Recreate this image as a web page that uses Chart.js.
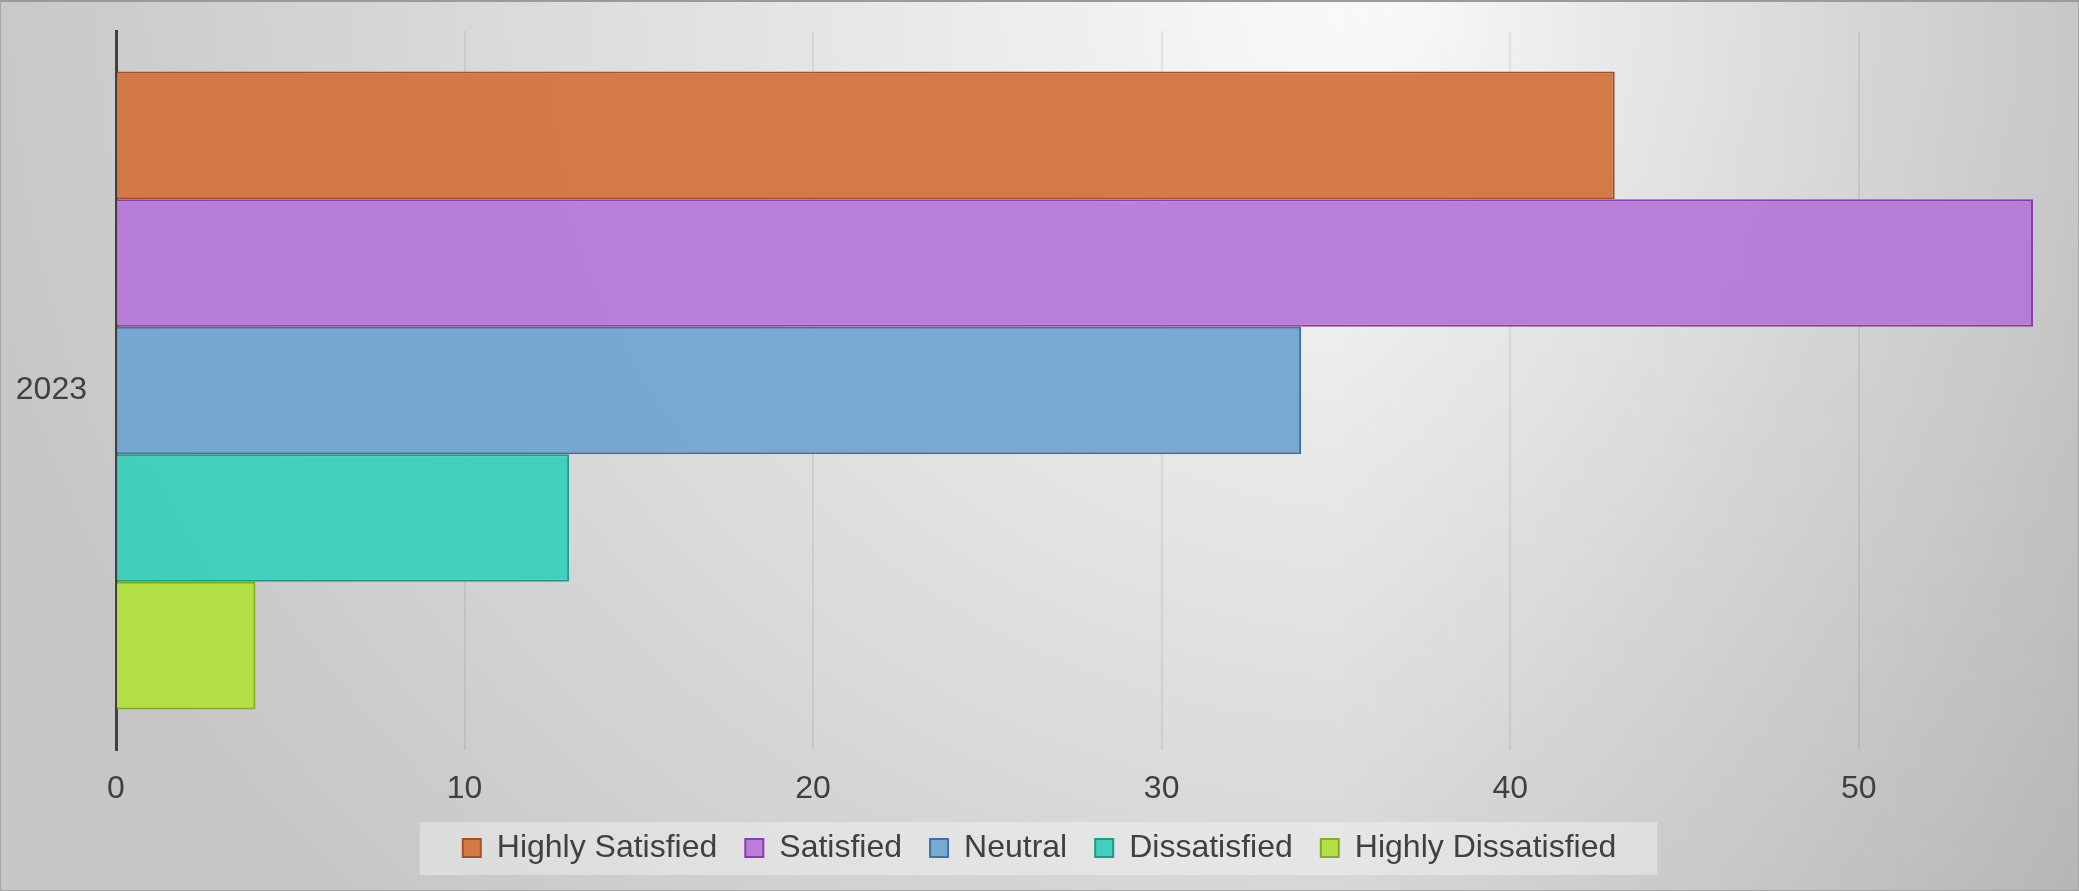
<!DOCTYPE html>
<html>
<head>
<meta charset="utf-8">
<script src="https://cdn.jsdelivr.net/npm/chart.js@4/dist/chart.umd.min.js"></script>
<style>
  html, body { margin: 0; padding: 0; }
  #bg {
    position: absolute;
    left: 0; top: 0;
    width: 2079px;
    height: 891px;
    box-sizing: border-box;
    border: 1px solid #a6a6a6;
    border-top: 2px solid #9a9a9a;
    background:
      linear-gradient(to right, rgba(0,0,0,0) 64%, rgba(0,0,0,0.12) 100%),
      radial-gradient(1450px 1300px at 1400px 0px, #fbfbfb 0%, #c6c6c6 100%);
  }
  canvas { position: absolute; left: 0; top: 0; }
</style>
</head>
<body>
<div id="bg"></div>
<canvas id="satisfactionChart" width="2079" height="891"></canvas>
<script>
// survey data
const years = ['2023'];
const seriesNames = ['Highly Satisfied', 'Satisfied', 'Neutral', 'Dissatisfied', 'Highly Dissatisfied'];
const seriesValues = [[43], [55], [34], [13], [4]];
const fillColors = ['rgba(211,116,61,0.95)', 'rgba(182,120,214,0.95)', 'rgba(114,165,207,0.95)', 'rgba(58,207,188,0.95)', 'rgba(177,223,63,0.95)'];
const borderColors = ['#a5502a', '#8a3cb4', '#3d72a8', '#1a9d8a', '#82ad24'];
const xTicks = [0, 10, 20, 30, 40, 50];
const xMax = 55;

const textColor = '#404040';
const fontFamily = '"Liberation Sans", Arial, sans-serif';

// light box behind the legend, legend nudged to the page centre
const legendBox = {
    id: 'legendBox',
    afterLayout(chart) {
        const lg = chart.legend;
        if (!lg) return;
        lg.left += 23;
        lg.right += 23;
    },
    beforeDraw(chart) {
        const lg = chart.legend;
        if (!lg || !lg.legendHitBoxes.length) return;
        const first = lg.legendHitBoxes[0];
        const last = lg.legendHitBoxes[lg.legendHitBoxes.length - 1];
        const ctx = chart.ctx;
        ctx.save();
        ctx.fillStyle = 'rgba(255,255,255,0.35)';
        ctx.fillRect(first.left - 43, first.top - 10, (last.left + last.width) - first.left + 84, first.height + 21);
        ctx.restore();
    }
};

let datasets = seriesNames.map((name, i) => ({
    label: name,
    data: seriesValues[i],
    backgroundColor: fillColors[i],
    borderColor: borderColors[i],
    borderWidth: 2,
    borderSkipped: 'start'
}));

let ctx = document.getElementById('satisfactionChart').getContext('2d');
var satisfactionChart = new Chart(ctx, {
    type: 'bar',
    data: { labels: years, datasets: datasets },
    plugins: [legendBox],
    options: {
        indexAxis: 'y',
        responsive: false,
        animation: false,
        devicePixelRatio: 1,
        layout: { padding: { top: 31, right: 46, left: 0, bottom: 17 } },
        categoryPercentage: 0.887,
        barPercentage: 1.0,
        scales: {
            x: {
                min: 0,
                max: xMax,
                afterBuildTicks: (scale) => {
                    scale.ticks = xTicks.map(v => ({ value: v }));
                },
                afterFit: (scale) => { scale.height = 54; },
                grid: { color: 'rgba(0,0,0,0.065)', lineWidth: 2, drawTicks: false },
                border: { display: false },
                ticks: { color: textColor, padding: 20, font: { family: fontFamily, size: 32 } }
            },
            y: {
                afterFit: (scale) => {
                    scale.width = 116;
                    scale.paddingTop = 0;
                    scale.paddingBottom = 0;
                },
                grid: { display: false, drawTicks: false },
                border: { display: true, color: '#404040', width: 3 },
                ticks: { color: textColor, padding: 29, font: { family: fontFamily, size: 32 } }
            }
        },
        plugins: {
            legend: {
                position: 'bottom',
                labels: {
                    color: textColor,
                    boxWidth: 18,
                    boxHeight: 18,
                    padding: 28,
                    font: { family: fontFamily, size: 32 }
                }
            },
            tooltip: { enabled: false }
        }
    }
});
</script>
</body>
</html>
